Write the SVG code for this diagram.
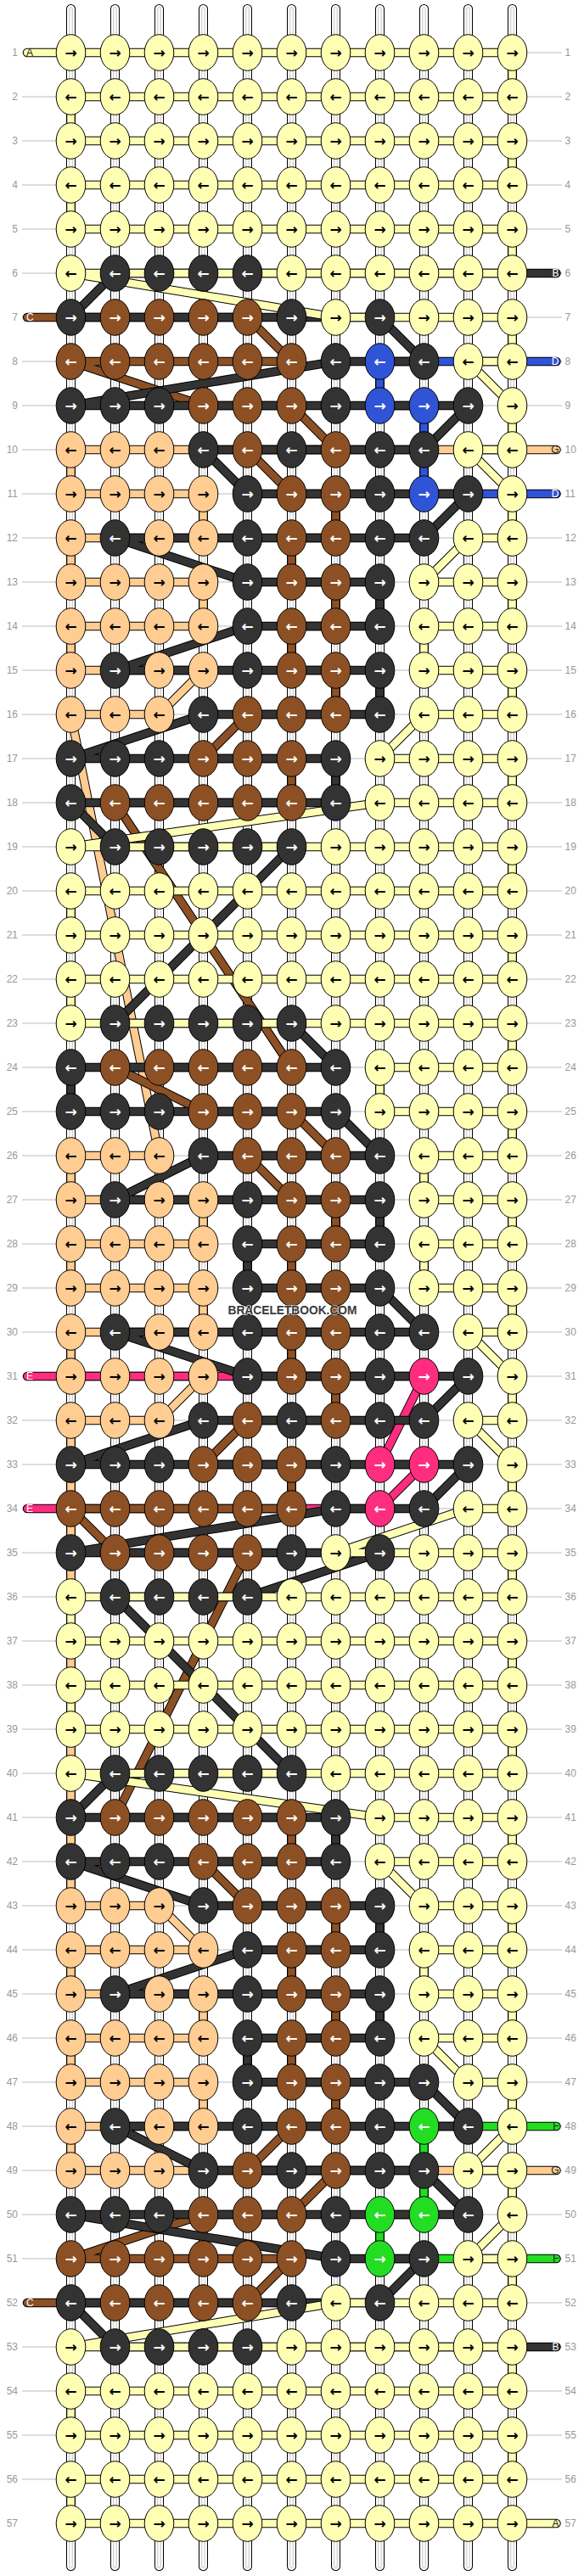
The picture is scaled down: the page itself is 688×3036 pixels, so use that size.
<svg xmlns="http://www.w3.org/2000/svg" xmlns:xlink="http://www.w3.org/1999/xlink" width="688" height="3036" viewBox="0 0 688 3036">
<style>
.a{font-family:"DejaVu Sans",sans-serif;font-weight:bold;font-size:17px;text-anchor:middle;fill:#000}
.w{fill:#fff}
.n,.m{font-family:"Liberation Sans",Arial,sans-serif;font-size:12px;fill:#999}
.n{text-anchor:end}
.s{font-family:"Liberation Sans",Arial,sans-serif;font-size:12px}
.sr{text-anchor:end}
.kn{stroke:#000;stroke-width:1}
.o{stroke:#000;stroke-width:.202}
.i{stroke-width:.1635}
.wm{font-family:"Liberation Sans",Arial,sans-serif;font-weight:bold;font-size:15px;text-anchor:middle;fill:#3a3a3a;stroke:#fff;stroke-opacity:.6;stroke-width:2;paint-order:stroke}
</style>
<defs>
<ellipse id="kY" class="kn" rx="17.3" ry="21.3" fill="#FFFFB4"/>
<ellipse id="kK" class="kn" rx="17.3" ry="21.3" fill="#333333"/>
<ellipse id="kN" class="kn" rx="17.3" ry="21.3" fill="#8C5024"/>
<ellipse id="kP" class="kn" rx="17.3" ry="21.3" fill="#FFCC91"/>
<ellipse id="kD" class="kn" rx="17.3" ry="21.3" fill="#3054D6"/>
<ellipse id="kE" class="kn" rx="17.3" ry="21.3" fill="#FF2D7F"/>
<ellipse id="kF" class="kn" rx="17.3" ry="21.3" fill="#22DD22"/>
<path id="tb" fill="none" d="M83.5 10.5V3024.5M135.5 10.5V3024.5M187.5 10.5V3024.5M239.5 10.5V3024.5M291.5 10.5V3024.5M343.5 10.5V3024.5M395.5 10.5V3024.5M447.5 10.5V3024.5M499.5 10.5V3024.5M551.5 10.5V3024.5M603.5 10.5V3024.5"/>
<path id="sA" fill="none" d="M.01 1L11 1L11 2L1 2L1 3L11 3L11 4L1 4L1 5L11 5L11 6L1 6L7 7L11 7L11 8L10 8L11 9L11 10L10 10L11 11L11 12L10 12L9 13L11 13L11 14L9 14L9 15L11 15L11 16L9 16L8 17L11 17L11 18L8 18L1 19L11 19L11 20L1 20L1 21L11 21L11 22L1 22L1 23L11 23L11 24L8 24L8 25L11 25L11 26L9 26L9 27L11 27L11 28L9 28L9 29L11 29L11 30L10 30L11 31L11 32L10 32L11 33L11 34L10 34L7 35L11 35L11 36L1 36L1 37L11 37L11 38L1 38L1 39L11 39L11 40L1 40L8 41L11 41L11 42L8 42L9 43L11 43L11 44L9 44L9 45L11 45L11 46L9 46L10 47L11 47L11 48L10 49L11 49L11 50L10 51L11 51L11 52L7 52L1 53L11 53L11 54L1 54L1 55L11 55L11 56L1 56L1 57L12 57"/>
<path id="sB" fill="none" d="M12 6L2 6L1 7L8 7L9 8L7 8L1 9L10 9L9 10L4 10L5 11L10 11L9 12L2 12L5 13L8 13L8 14L5 14L2 15L8 15L8 16L4 16L1 17L7 17L7 18L1 18L2 19L6 19L2 23L6 23L7 24L1 24L1 25L7 25L8 26L4 26L2 27L8 27L8 28L5 28L5 29L8 29L9 30L2 30L5 31L10 31L9 32L4 32L1 33L10 33L9 34L7 34L1 35L8 35L5 36L2 36L6 40L2 40L1 41L7 41L7 42L1 42L4 43L8 43L8 44L5 44L2 45L8 45L8 46L5 46L5 47L9 47L10 48L2 48L4 49L9 49L10 50L1 50L7 51L9 51L8 52L1 52L2 53L12 53"/>
<path id="sC" fill="none" d="M.01 7L5 7L6 8L1 8L4 9L6 9L7 10L5 10L6 11L7 11L7 12L6 12L6 13L7 13L7 14L6 14L6 15L7 15L7 16L5 16L4 17L6 17L6 18L2 18L6 24L2 24L4 25L6 25L7 26L5 26L6 27L7 27L7 28L6 28L6 29L7 29L7 30L6 30L6 31L7 31L7 32L5 32L4 33L6 33L6 34L1 34L2 35L5 35L2 41L6 41L6 42L4 42L5 43L7 43L7 44L6 44L6 45L7 45L7 46L6 46L6 47L7 47L7 48L6 48L5 49L7 49L6 50L4 50L1 51L6 51L5 52L2 52L.01 52"/>
<path id="sD" fill="none" d="M12 8L8 8L8 9L9 9L9 11L12 11"/>
<path id="sG" fill="none" d="M12 10L1 10L1 11L4 11L4 12L1 12L1 13L4 13L4 14L1 14L1 15L4 15L3 16L1 16L3 26L1 26L1 27L4 27L4 28L1 28L1 29L4 29L4 30L1 30L1 31L4 31L3 32L1 32L1 43L3 43L4 44L1 44L1 45L4 45L4 46L1 46L1 47L4 47L4 48L1 48L1 49L12 49"/>
<path id="sE" fill="none" d="M.01 31L9 31L8 33L9 33L8 34L.01 34"/>
<path id="sF" fill="none" d="M12 48L9 48L9 50L8 50L8 51L12 51"/>
<g id="TY"><use href="#kY" x="83.5"/><use href="#kY" x="135.5"/><use href="#kY" x="187.5"/><use href="#kY" x="239.5"/><use href="#kY" x="291.5"/><use href="#kY" x="343.5"/><use href="#kY" x="395.5"/><use href="#kY" x="447.5"/><use href="#kY" x="499.5"/><use href="#kY" x="551.5"/><use href="#kY" x="603.5"/></g>
<g id="T6"><use href="#kY" x="83.5"/><use href="#kK" x="135.5"/><use href="#kK" x="187.5"/><use href="#kK" x="239.5"/><use href="#kK" x="291.5"/><use href="#kY" x="343.5"/><use href="#kY" x="395.5"/><use href="#kY" x="447.5"/><use href="#kY" x="499.5"/><use href="#kY" x="551.5"/><use href="#kY" x="603.5"/></g>
<g id="T7"><use href="#kK" x="83.5"/><use href="#kN" x="135.5"/><use href="#kN" x="187.5"/><use href="#kN" x="239.5"/><use href="#kN" x="291.5"/><use href="#kK" x="343.5"/><use href="#kY" x="395.5"/><use href="#kK" x="447.5"/><use href="#kY" x="499.5"/><use href="#kY" x="551.5"/><use href="#kY" x="603.5"/></g>
<g id="T8"><use href="#kN" x="83.5"/><use href="#kN" x="135.5"/><use href="#kN" x="187.5"/><use href="#kN" x="239.5"/><use href="#kN" x="291.5"/><use href="#kN" x="343.5"/><use href="#kK" x="395.5"/><use href="#kD" x="447.5"/><use href="#kK" x="499.5"/><use href="#kY" x="551.5"/><use href="#kY" x="603.5"/></g>
<g id="T9"><use href="#kK" x="83.5"/><use href="#kK" x="135.5"/><use href="#kK" x="187.5"/><use href="#kN" x="239.5"/><use href="#kN" x="291.5"/><use href="#kN" x="343.5"/><use href="#kK" x="395.5"/><use href="#kD" x="447.5"/><use href="#kD" x="499.5"/><use href="#kK" x="551.5"/><use href="#kY" x="603.5"/></g>
<g id="T10"><use href="#kP" x="83.5"/><use href="#kP" x="135.5"/><use href="#kP" x="187.5"/><use href="#kK" x="239.5"/><use href="#kN" x="291.5"/><use href="#kK" x="343.5"/><use href="#kN" x="395.5"/><use href="#kK" x="447.5"/><use href="#kK" x="499.5"/><use href="#kY" x="551.5"/><use href="#kY" x="603.5"/></g>
<g id="T11"><use href="#kP" x="83.5"/><use href="#kP" x="135.5"/><use href="#kP" x="187.5"/><use href="#kP" x="239.5"/><use href="#kK" x="291.5"/><use href="#kN" x="343.5"/><use href="#kN" x="395.5"/><use href="#kK" x="447.5"/><use href="#kD" x="499.5"/><use href="#kK" x="551.5"/><use href="#kY" x="603.5"/></g>
<g id="T12"><use href="#kP" x="83.5"/><use href="#kK" x="135.5"/><use href="#kP" x="187.5"/><use href="#kP" x="239.5"/><use href="#kK" x="291.5"/><use href="#kN" x="343.5"/><use href="#kN" x="395.5"/><use href="#kK" x="447.5"/><use href="#kK" x="499.5"/><use href="#kY" x="551.5"/><use href="#kY" x="603.5"/></g>
<g id="T13"><use href="#kP" x="83.5"/><use href="#kP" x="135.5"/><use href="#kP" x="187.5"/><use href="#kP" x="239.5"/><use href="#kK" x="291.5"/><use href="#kN" x="343.5"/><use href="#kN" x="395.5"/><use href="#kK" x="447.5"/><use href="#kY" x="499.5"/><use href="#kY" x="551.5"/><use href="#kY" x="603.5"/></g>
<g id="T15"><use href="#kP" x="83.5"/><use href="#kK" x="135.5"/><use href="#kP" x="187.5"/><use href="#kP" x="239.5"/><use href="#kK" x="291.5"/><use href="#kN" x="343.5"/><use href="#kN" x="395.5"/><use href="#kK" x="447.5"/><use href="#kY" x="499.5"/><use href="#kY" x="551.5"/><use href="#kY" x="603.5"/></g>
<g id="T16"><use href="#kP" x="83.5"/><use href="#kP" x="135.5"/><use href="#kP" x="187.5"/><use href="#kK" x="239.5"/><use href="#kN" x="291.5"/><use href="#kN" x="343.5"/><use href="#kN" x="395.5"/><use href="#kK" x="447.5"/><use href="#kY" x="499.5"/><use href="#kY" x="551.5"/><use href="#kY" x="603.5"/></g>
<g id="T17"><use href="#kK" x="83.5"/><use href="#kK" x="135.5"/><use href="#kK" x="187.5"/><use href="#kN" x="239.5"/><use href="#kN" x="291.5"/><use href="#kN" x="343.5"/><use href="#kK" x="395.5"/><use href="#kY" x="447.5"/><use href="#kY" x="499.5"/><use href="#kY" x="551.5"/><use href="#kY" x="603.5"/></g>
<g id="T18"><use href="#kK" x="83.5"/><use href="#kN" x="135.5"/><use href="#kN" x="187.5"/><use href="#kN" x="239.5"/><use href="#kN" x="291.5"/><use href="#kN" x="343.5"/><use href="#kK" x="395.5"/><use href="#kY" x="447.5"/><use href="#kY" x="499.5"/><use href="#kY" x="551.5"/><use href="#kY" x="603.5"/></g>
<g id="T19"><use href="#kY" x="83.5"/><use href="#kK" x="135.5"/><use href="#kK" x="187.5"/><use href="#kK" x="239.5"/><use href="#kK" x="291.5"/><use href="#kK" x="343.5"/><use href="#kY" x="395.5"/><use href="#kY" x="447.5"/><use href="#kY" x="499.5"/><use href="#kY" x="551.5"/><use href="#kY" x="603.5"/></g>
<g id="T31"><use href="#kP" x="83.5"/><use href="#kP" x="135.5"/><use href="#kP" x="187.5"/><use href="#kP" x="239.5"/><use href="#kK" x="291.5"/><use href="#kN" x="343.5"/><use href="#kN" x="395.5"/><use href="#kK" x="447.5"/><use href="#kE" x="499.5"/><use href="#kK" x="551.5"/><use href="#kY" x="603.5"/></g>
<g id="T33"><use href="#kK" x="83.5"/><use href="#kK" x="135.5"/><use href="#kK" x="187.5"/><use href="#kN" x="239.5"/><use href="#kN" x="291.5"/><use href="#kN" x="343.5"/><use href="#kK" x="395.5"/><use href="#kE" x="447.5"/><use href="#kE" x="499.5"/><use href="#kK" x="551.5"/><use href="#kY" x="603.5"/></g>
<g id="T34"><use href="#kN" x="83.5"/><use href="#kN" x="135.5"/><use href="#kN" x="187.5"/><use href="#kN" x="239.5"/><use href="#kN" x="291.5"/><use href="#kN" x="343.5"/><use href="#kK" x="395.5"/><use href="#kE" x="447.5"/><use href="#kK" x="499.5"/><use href="#kY" x="551.5"/><use href="#kY" x="603.5"/></g>
<g id="T47"><use href="#kP" x="83.5"/><use href="#kP" x="135.5"/><use href="#kP" x="187.5"/><use href="#kP" x="239.5"/><use href="#kK" x="291.5"/><use href="#kN" x="343.5"/><use href="#kN" x="395.5"/><use href="#kK" x="447.5"/><use href="#kK" x="499.5"/><use href="#kY" x="551.5"/><use href="#kY" x="603.5"/></g>
<g id="T48"><use href="#kP" x="83.5"/><use href="#kK" x="135.5"/><use href="#kP" x="187.5"/><use href="#kP" x="239.5"/><use href="#kK" x="291.5"/><use href="#kN" x="343.5"/><use href="#kN" x="395.5"/><use href="#kK" x="447.5"/><use href="#kF" x="499.5"/><use href="#kK" x="551.5"/><use href="#kY" x="603.5"/></g>
<g id="T50"><use href="#kK" x="83.5"/><use href="#kK" x="135.5"/><use href="#kK" x="187.5"/><use href="#kN" x="239.5"/><use href="#kN" x="291.5"/><use href="#kN" x="343.5"/><use href="#kK" x="395.5"/><use href="#kF" x="447.5"/><use href="#kF" x="499.5"/><use href="#kK" x="551.5"/><use href="#kY" x="603.5"/></g>
<g id="T51"><use href="#kN" x="83.5"/><use href="#kN" x="135.5"/><use href="#kN" x="187.5"/><use href="#kN" x="239.5"/><use href="#kN" x="291.5"/><use href="#kN" x="343.5"/><use href="#kK" x="395.5"/><use href="#kF" x="447.5"/><use href="#kK" x="499.5"/><use href="#kY" x="551.5"/><use href="#kY" x="603.5"/></g>
</defs>
<rect width="688" height="3036" fill="#fff"/>
<g id="row-lines">
<path fill="none" stroke="#bbb" stroke-width="1" d="M26 62h636m-636 52h636m-636 52h636m-636 52h636m-636 52h636m-636 52h636m-636 52h636m-636 52h636m-636 52h636m-636 52h636m-636 52h636m-636 52h636m-636 52h636m-636 52h636m-636 52h636m-636 52h636m-636 52h636m-636 52h636m-636 52h636m-636 52h636m-636 52h636m-636 52h636m-636 52h636m-636 52h636m-636 52h636m-636 52h636m-636 52h636m-636 52h636m-636 52h636m-636 52h636m-636 52h636m-636 52h636m-636 52h636m-636 52h636m-636 52h636m-636 52h636m-636 52h636m-636 52h636m-636 52h636m-636 52h636m-636 52h636m-636 52h636m-636 52h636m-636 52h636m-636 52h636m-636 52h636m-636 52h636m-636 52h636m-636 52h636m-636 52h636m-636 52h636m-636 52h636m-636 52h636m-636 52h636m-636 52h636m-636 52h636"/>
</g>
<g id="warps" stroke-linecap="round">
<use href="#tb" stroke="#000" stroke-width="11"/>
<use href="#tb" stroke="#fff" stroke-width="9"/>
<use href="#tb" stroke="#c4c4c4" stroke-width="4.4"/>
<use href="#tb" stroke="#fff" stroke-width="2.4"/>
</g>
<g id="connectors" transform="translate(31.5 10) scale(52)" stroke-linejoin="round" stroke-linecap="round">
<use href="#sG" class="o"/><use href="#sG" class="i" stroke="#FFCC91"/>
<use href="#sE" class="o"/><use href="#sE" class="i" stroke="#FF2D7F"/>
<use href="#sF" class="o"/><use href="#sF" class="i" stroke="#22DD22"/>
<use href="#sD" class="o"/><use href="#sD" class="i" stroke="#3054D6"/>
<use href="#sC" class="o"/><use href="#sC" class="i" stroke="#8C5024"/>
<use href="#sB" class="o"/><use href="#sB" class="i" stroke="#333333"/>
<use href="#sA" class="o"/><use href="#sA" class="i" stroke="#FFFFB4"/>
</g>
<g id="knots">
<g id="row1" transform="translate(0 62)"><use href="#TY"/><text class="a" y="5.5" x="83.5 135.5 187.5 239.5 291.5 343.5 395.5 447.5 499.5 551.5 603.5">→→→→→→→→→→→</text><text class="n" x="21" y="4">1</text><text class="m" x="665.5" y="4">1</text></g>
<g id="row2" transform="translate(0 114)"><use href="#TY"/><text class="a" y="5.5" x="83.5 135.5 187.5 239.5 291.5 343.5 395.5 447.5 499.5 551.5 603.5">←←←←←←←←←←←</text><text class="n" x="21" y="4">2</text><text class="m" x="665.5" y="4">2</text></g>
<g id="row3" transform="translate(0 166)"><use href="#TY"/><text class="a" y="5.5" x="83.5 135.5 187.5 239.5 291.5 343.5 395.5 447.5 499.5 551.5 603.5">→→→→→→→→→→→</text><text class="n" x="21" y="4">3</text><text class="m" x="665.5" y="4">3</text></g>
<g id="row4" transform="translate(0 218)"><use href="#TY"/><text class="a" y="5.5" x="83.5 135.5 187.5 239.5 291.5 343.5 395.5 447.5 499.5 551.5 603.5">←←←←←←←←←←←</text><text class="n" x="21" y="4">4</text><text class="m" x="665.5" y="4">4</text></g>
<g id="row5" transform="translate(0 270)"><use href="#TY"/><text class="a" y="5.5" x="83.5 135.5 187.5 239.5 291.5 343.5 395.5 447.5 499.5 551.5 603.5">→→→→→→→→→→→</text><text class="n" x="21" y="4">5</text><text class="m" x="665.5" y="4">5</text></g>
<g id="row6" transform="translate(0 322)"><use href="#T6"/><text class="a" y="5.5" x="83.5 135.5 187.5 239.5 291.5 343.5 395.5 447.5 499.5 551.5 603.5">←<tspan class="w">←←←←</tspan>←←←←←←</text><text class="n" x="21" y="4">6</text><text class="m" x="665.5" y="4">6</text></g>
<g id="row7" transform="translate(0 374)"><use href="#T7"/><text class="a" y="5.5" x="83.5 135.5 187.5 239.5 291.5 343.5 395.5 447.5 499.5 551.5 603.5"><tspan class="w">→→→→→→</tspan>→<tspan class="w">→</tspan>→→→</text><text class="n" x="21" y="4">7</text><text class="m" x="665.5" y="4">7</text></g>
<g id="row8" transform="translate(0 426)"><use href="#T8"/><text class="a" y="5.5" x="83.5 135.5 187.5 239.5 291.5 343.5 395.5 447.5 499.5 551.5 603.5"><tspan class="w">←←←←←←←←←</tspan>←←</text><text class="n" x="21" y="4">8</text><text class="m" x="665.5" y="4">8</text></g>
<g id="row9" transform="translate(0 478)"><use href="#T9"/><text class="a" y="5.5" x="83.5 135.5 187.5 239.5 291.5 343.5 395.5 447.5 499.5 551.5 603.5"><tspan class="w">→→→→→→→→→→</tspan>→</text><text class="n" x="21" y="4">9</text><text class="m" x="665.5" y="4">9</text></g>
<g id="row10" transform="translate(0 530)"><use href="#T10"/><text class="a" y="5.5" x="83.5 135.5 187.5 239.5 291.5 343.5 395.5 447.5 499.5 551.5 603.5">←←←<tspan class="w">←←←←←←</tspan>←←</text><text class="n" x="21" y="4">10</text><text class="m" x="665.5" y="4">10</text></g>
<g id="row11" transform="translate(0 582)"><use href="#T11"/><text class="a" y="5.5" x="83.5 135.5 187.5 239.5 291.5 343.5 395.5 447.5 499.5 551.5 603.5">→→→→<tspan class="w">→→→→→→</tspan>→</text><text class="n" x="21" y="4">11</text><text class="m" x="665.5" y="4">11</text></g>
<g id="row12" transform="translate(0 634)"><use href="#T12"/><text class="a" y="5.5" x="83.5 135.5 187.5 239.5 291.5 343.5 395.5 447.5 499.5 551.5 603.5">←<tspan class="w">←</tspan>←←<tspan class="w">←←←←←</tspan>←←</text><text class="n" x="21" y="4">12</text><text class="m" x="665.5" y="4">12</text></g>
<g id="row13" transform="translate(0 686)"><use href="#T13"/><text class="a" y="5.5" x="83.5 135.5 187.5 239.5 291.5 343.5 395.5 447.5 499.5 551.5 603.5">→→→→<tspan class="w">→→→→</tspan>→→→</text><text class="n" x="21" y="4">13</text><text class="m" x="665.5" y="4">13</text></g>
<g id="row14" transform="translate(0 738)"><use href="#T13"/><text class="a" y="5.5" x="83.5 135.5 187.5 239.5 291.5 343.5 395.5 447.5 499.5 551.5 603.5">←←←←<tspan class="w">←←←←</tspan>←←←</text><text class="n" x="21" y="4">14</text><text class="m" x="665.5" y="4">14</text></g>
<g id="row15" transform="translate(0 790)"><use href="#T15"/><text class="a" y="5.5" x="83.5 135.5 187.5 239.5 291.5 343.5 395.5 447.5 499.5 551.5 603.5">→<tspan class="w">→</tspan>→→<tspan class="w">→→→→</tspan>→→→</text><text class="n" x="21" y="4">15</text><text class="m" x="665.5" y="4">15</text></g>
<g id="row16" transform="translate(0 842)"><use href="#T16"/><text class="a" y="5.5" x="83.5 135.5 187.5 239.5 291.5 343.5 395.5 447.5 499.5 551.5 603.5">←←←<tspan class="w">←←←←←</tspan>←←←</text><text class="n" x="21" y="4">16</text><text class="m" x="665.5" y="4">16</text></g>
<g id="row17" transform="translate(0 894)"><use href="#T17"/><text class="a" y="5.5" x="83.5 135.5 187.5 239.5 291.5 343.5 395.5 447.5 499.5 551.5 603.5"><tspan class="w">→→→→→→→</tspan>→→→→</text><text class="n" x="21" y="4">17</text><text class="m" x="665.5" y="4">17</text></g>
<g id="row18" transform="translate(0 946)"><use href="#T18"/><text class="a" y="5.5" x="83.5 135.5 187.5 239.5 291.5 343.5 395.5 447.5 499.5 551.5 603.5"><tspan class="w">←←←←←←←</tspan>←←←←</text><text class="n" x="21" y="4">18</text><text class="m" x="665.5" y="4">18</text></g>
<g id="row19" transform="translate(0 998)"><use href="#T19"/><text class="a" y="5.5" x="83.5 135.5 187.5 239.5 291.5 343.5 395.5 447.5 499.5 551.5 603.5">→<tspan class="w">→→→→→</tspan>→→→→→</text><text class="n" x="21" y="4">19</text><text class="m" x="665.5" y="4">19</text></g>
<g id="row20" transform="translate(0 1050)"><use href="#TY"/><text class="a" y="5.5" x="83.5 135.5 187.5 239.5 291.5 343.5 395.5 447.5 499.5 551.5 603.5">←←←←←←←←←←←</text><text class="n" x="21" y="4">20</text><text class="m" x="665.5" y="4">20</text></g>
<g id="row21" transform="translate(0 1102)"><use href="#TY"/><text class="a" y="5.5" x="83.5 135.5 187.5 239.5 291.5 343.5 395.5 447.5 499.5 551.5 603.5">→→→→→→→→→→→</text><text class="n" x="21" y="4">21</text><text class="m" x="665.5" y="4">21</text></g>
<g id="row22" transform="translate(0 1154)"><use href="#TY"/><text class="a" y="5.5" x="83.5 135.5 187.5 239.5 291.5 343.5 395.5 447.5 499.5 551.5 603.5">←←←←←←←←←←←</text><text class="n" x="21" y="4">22</text><text class="m" x="665.5" y="4">22</text></g>
<g id="row23" transform="translate(0 1206)"><use href="#T19"/><text class="a" y="5.5" x="83.5 135.5 187.5 239.5 291.5 343.5 395.5 447.5 499.5 551.5 603.5">→<tspan class="w">→→→→→</tspan>→→→→→</text><text class="n" x="21" y="4">23</text><text class="m" x="665.5" y="4">23</text></g>
<g id="row24" transform="translate(0 1258)"><use href="#T18"/><text class="a" y="5.5" x="83.5 135.5 187.5 239.5 291.5 343.5 395.5 447.5 499.5 551.5 603.5"><tspan class="w">←←←←←←←</tspan>←←←←</text><text class="n" x="21" y="4">24</text><text class="m" x="665.5" y="4">24</text></g>
<g id="row25" transform="translate(0 1310)"><use href="#T17"/><text class="a" y="5.5" x="83.5 135.5 187.5 239.5 291.5 343.5 395.5 447.5 499.5 551.5 603.5"><tspan class="w">→→→→→→→</tspan>→→→→</text><text class="n" x="21" y="4">25</text><text class="m" x="665.5" y="4">25</text></g>
<g id="row26" transform="translate(0 1362)"><use href="#T16"/><text class="a" y="5.5" x="83.5 135.5 187.5 239.5 291.5 343.5 395.5 447.5 499.5 551.5 603.5">←←←<tspan class="w">←←←←←</tspan>←←←</text><text class="n" x="21" y="4">26</text><text class="m" x="665.5" y="4">26</text></g>
<g id="row27" transform="translate(0 1414)"><use href="#T15"/><text class="a" y="5.5" x="83.5 135.5 187.5 239.5 291.5 343.5 395.5 447.5 499.5 551.5 603.5">→<tspan class="w">→</tspan>→→<tspan class="w">→→→→</tspan>→→→</text><text class="n" x="21" y="4">27</text><text class="m" x="665.5" y="4">27</text></g>
<g id="row28" transform="translate(0 1466)"><use href="#T13"/><text class="a" y="5.5" x="83.5 135.5 187.5 239.5 291.5 343.5 395.5 447.5 499.5 551.5 603.5">←←←←<tspan class="w">←←←←</tspan>←←←</text><text class="n" x="21" y="4">28</text><text class="m" x="665.5" y="4">28</text></g>
<g id="row29" transform="translate(0 1518)"><use href="#T13"/><text class="a" y="5.5" x="83.5 135.5 187.5 239.5 291.5 343.5 395.5 447.5 499.5 551.5 603.5">→→→→<tspan class="w">→→→→</tspan>→→→</text><text class="n" x="21" y="4">29</text><text class="m" x="665.5" y="4">29</text></g>
<g id="row30" transform="translate(0 1570)"><use href="#T12"/><text class="a" y="5.5" x="83.5 135.5 187.5 239.5 291.5 343.5 395.5 447.5 499.5 551.5 603.5">←<tspan class="w">←</tspan>←←<tspan class="w">←←←←←</tspan>←←</text><text class="n" x="21" y="4">30</text><text class="m" x="665.5" y="4">30</text></g>
<g id="row31" transform="translate(0 1622)"><use href="#T31"/><text class="a" y="5.5" x="83.5 135.5 187.5 239.5 291.5 343.5 395.5 447.5 499.5 551.5 603.5">→→→→<tspan class="w">→→→→→→</tspan>→</text><text class="n" x="21" y="4">31</text><text class="m" x="665.5" y="4">31</text></g>
<g id="row32" transform="translate(0 1674)"><use href="#T10"/><text class="a" y="5.5" x="83.5 135.5 187.5 239.5 291.5 343.5 395.5 447.5 499.5 551.5 603.5">←←←<tspan class="w">←←←←←←</tspan>←←</text><text class="n" x="21" y="4">32</text><text class="m" x="665.5" y="4">32</text></g>
<g id="row33" transform="translate(0 1726)"><use href="#T33"/><text class="a" y="5.5" x="83.5 135.5 187.5 239.5 291.5 343.5 395.5 447.5 499.5 551.5 603.5"><tspan class="w">→→→→→→→→→→</tspan>→</text><text class="n" x="21" y="4">33</text><text class="m" x="665.5" y="4">33</text></g>
<g id="row34" transform="translate(0 1778)"><use href="#T34"/><text class="a" y="5.5" x="83.5 135.5 187.5 239.5 291.5 343.5 395.5 447.5 499.5 551.5 603.5"><tspan class="w">←←←←←←←←←</tspan>←←</text><text class="n" x="21" y="4">34</text><text class="m" x="665.5" y="4">34</text></g>
<g id="row35" transform="translate(0 1830)"><use href="#T7"/><text class="a" y="5.5" x="83.5 135.5 187.5 239.5 291.5 343.5 395.5 447.5 499.5 551.5 603.5"><tspan class="w">→→→→→→</tspan>→<tspan class="w">→</tspan>→→→</text><text class="n" x="21" y="4">35</text><text class="m" x="665.5" y="4">35</text></g>
<g id="row36" transform="translate(0 1882)"><use href="#T6"/><text class="a" y="5.5" x="83.5 135.5 187.5 239.5 291.5 343.5 395.5 447.5 499.5 551.5 603.5">←<tspan class="w">←←←←</tspan>←←←←←←</text><text class="n" x="21" y="4">36</text><text class="m" x="665.5" y="4">36</text></g>
<g id="row37" transform="translate(0 1934)"><use href="#TY"/><text class="a" y="5.5" x="83.5 135.5 187.5 239.5 291.5 343.5 395.5 447.5 499.5 551.5 603.5">→→→→→→→→→→→</text><text class="n" x="21" y="4">37</text><text class="m" x="665.5" y="4">37</text></g>
<g id="row38" transform="translate(0 1986)"><use href="#TY"/><text class="a" y="5.5" x="83.5 135.5 187.5 239.5 291.5 343.5 395.5 447.5 499.5 551.5 603.5">←←←←←←←←←←←</text><text class="n" x="21" y="4">38</text><text class="m" x="665.5" y="4">38</text></g>
<g id="row39" transform="translate(0 2038)"><use href="#TY"/><text class="a" y="5.5" x="83.5 135.5 187.5 239.5 291.5 343.5 395.5 447.5 499.5 551.5 603.5">→→→→→→→→→→→</text><text class="n" x="21" y="4">39</text><text class="m" x="665.5" y="4">39</text></g>
<g id="row40" transform="translate(0 2090)"><use href="#T19"/><text class="a" y="5.5" x="83.5 135.5 187.5 239.5 291.5 343.5 395.5 447.5 499.5 551.5 603.5">←<tspan class="w">←←←←←</tspan>←←←←←</text><text class="n" x="21" y="4">40</text><text class="m" x="665.5" y="4">40</text></g>
<g id="row41" transform="translate(0 2142)"><use href="#T18"/><text class="a" y="5.5" x="83.5 135.5 187.5 239.5 291.5 343.5 395.5 447.5 499.5 551.5 603.5"><tspan class="w">→→→→→→→</tspan>→→→→</text><text class="n" x="21" y="4">41</text><text class="m" x="665.5" y="4">41</text></g>
<g id="row42" transform="translate(0 2194)"><use href="#T17"/><text class="a" y="5.5" x="83.5 135.5 187.5 239.5 291.5 343.5 395.5 447.5 499.5 551.5 603.5"><tspan class="w">←←←←←←←</tspan>←←←←</text><text class="n" x="21" y="4">42</text><text class="m" x="665.5" y="4">42</text></g>
<g id="row43" transform="translate(0 2246)"><use href="#T16"/><text class="a" y="5.5" x="83.5 135.5 187.5 239.5 291.5 343.5 395.5 447.5 499.5 551.5 603.5">→→→<tspan class="w">→→→→→</tspan>→→→</text><text class="n" x="21" y="4">43</text><text class="m" x="665.5" y="4">43</text></g>
<g id="row44" transform="translate(0 2298)"><use href="#T13"/><text class="a" y="5.5" x="83.5 135.5 187.5 239.5 291.5 343.5 395.5 447.5 499.5 551.5 603.5">←←←←<tspan class="w">←←←←</tspan>←←←</text><text class="n" x="21" y="4">44</text><text class="m" x="665.5" y="4">44</text></g>
<g id="row45" transform="translate(0 2350)"><use href="#T15"/><text class="a" y="5.5" x="83.5 135.5 187.5 239.5 291.5 343.5 395.5 447.5 499.5 551.5 603.5">→<tspan class="w">→</tspan>→→<tspan class="w">→→→→</tspan>→→→</text><text class="n" x="21" y="4">45</text><text class="m" x="665.5" y="4">45</text></g>
<g id="row46" transform="translate(0 2402)"><use href="#T13"/><text class="a" y="5.5" x="83.5 135.5 187.5 239.5 291.5 343.5 395.5 447.5 499.5 551.5 603.5">←←←←<tspan class="w">←←←←</tspan>←←←</text><text class="n" x="21" y="4">46</text><text class="m" x="665.5" y="4">46</text></g>
<g id="row47" transform="translate(0 2454)"><use href="#T47"/><text class="a" y="5.5" x="83.5 135.5 187.5 239.5 291.5 343.5 395.5 447.5 499.5 551.5 603.5">→→→→<tspan class="w">→→→→→</tspan>→→</text><text class="n" x="21" y="4">47</text><text class="m" x="665.5" y="4">47</text></g>
<g id="row48" transform="translate(0 2506)"><use href="#T48"/><text class="a" y="5.5" x="83.5 135.5 187.5 239.5 291.5 343.5 395.5 447.5 499.5 551.5 603.5">←<tspan class="w">←</tspan>←←<tspan class="w">←←←←←←</tspan>←</text><text class="n" x="21" y="4">48</text><text class="m" x="665.5" y="4">48</text></g>
<g id="row49" transform="translate(0 2558)"><use href="#T10"/><text class="a" y="5.5" x="83.5 135.5 187.5 239.5 291.5 343.5 395.5 447.5 499.5 551.5 603.5">→→→<tspan class="w">→→→→→→</tspan>→→</text><text class="n" x="21" y="4">49</text><text class="m" x="665.5" y="4">49</text></g>
<g id="row50" transform="translate(0 2610)"><use href="#T50"/><text class="a" y="5.5" x="83.5 135.5 187.5 239.5 291.5 343.5 395.5 447.5 499.5 551.5 603.5"><tspan class="w">←←←←←←←←←←</tspan>←</text><text class="n" x="21" y="4">50</text><text class="m" x="665.5" y="4">50</text></g>
<g id="row51" transform="translate(0 2662)"><use href="#T51"/><text class="a" y="5.5" x="83.5 135.5 187.5 239.5 291.5 343.5 395.5 447.5 499.5 551.5 603.5"><tspan class="w">→→→→→→→→→</tspan>→→</text><text class="n" x="21" y="4">51</text><text class="m" x="665.5" y="4">51</text></g>
<g id="row52" transform="translate(0 2714)"><use href="#T7"/><text class="a" y="5.5" x="83.5 135.5 187.5 239.5 291.5 343.5 395.5 447.5 499.5 551.5 603.5"><tspan class="w">←←←←←←</tspan>←<tspan class="w">←</tspan>←←←</text><text class="n" x="21" y="4">52</text><text class="m" x="665.5" y="4">52</text></g>
<g id="row53" transform="translate(0 2766)"><use href="#T6"/><text class="a" y="5.5" x="83.5 135.5 187.5 239.5 291.5 343.5 395.5 447.5 499.5 551.5 603.5">→<tspan class="w">→→→→</tspan>→→→→→→</text><text class="n" x="21" y="4">53</text><text class="m" x="665.5" y="4">53</text></g>
<g id="row54" transform="translate(0 2818)"><use href="#TY"/><text class="a" y="5.5" x="83.5 135.5 187.5 239.5 291.5 343.5 395.5 447.5 499.5 551.5 603.5">←←←←←←←←←←←</text><text class="n" x="21" y="4">54</text><text class="m" x="665.5" y="4">54</text></g>
<g id="row55" transform="translate(0 2870)"><use href="#TY"/><text class="a" y="5.5" x="83.5 135.5 187.5 239.5 291.5 343.5 395.5 447.5 499.5 551.5 603.5">→→→→→→→→→→→</text><text class="n" x="21" y="4">55</text><text class="m" x="665.5" y="4">55</text></g>
<g id="row56" transform="translate(0 2922)"><use href="#TY"/><text class="a" y="5.5" x="83.5 135.5 187.5 239.5 291.5 343.5 395.5 447.5 499.5 551.5 603.5">←←←←←←←←←←←</text><text class="n" x="21" y="4">56</text><text class="m" x="665.5" y="4">56</text></g>
<g id="row57" transform="translate(0 2974)"><use href="#TY"/><text class="a" y="5.5" x="83.5 135.5 187.5 239.5 291.5 343.5 395.5 447.5 499.5 551.5 603.5">→→→→→→→→→→→</text><text class="n" x="21" y="4">57</text><text class="m" x="665.5" y="4">57</text></g>
</g>
<g id="string-labels" class="s">
<text x="31" y="66.2" fill="#222">A</text>
<text x="31" y="378.2" fill="#fff">C</text>
<text x="31" y="1626.2" fill="#fff">E</text>
<text x="31" y="1782.2" fill="#fff">E</text>
<text x="31" y="2718.2" fill="#fff">C</text>
<text class="sr" x="658.5" y="326.2" fill="#fff">B</text>
<text class="sr" x="658.5" y="430.2" fill="#fff">D</text>
<text class="sr" x="658.5" y="534.2" fill="#222">G</text>
<text class="sr" x="658.5" y="586.2" fill="#fff">D</text>
<text class="sr" x="658.5" y="2510.2" fill="#222">F</text>
<text class="sr" x="658.5" y="2562.2" fill="#222">G</text>
<text class="sr" x="658.5" y="2666.2" fill="#222">F</text>
<text class="sr" x="658.5" y="2770.2" fill="#fff">B</text>
<text class="sr" x="658.5" y="2978.2" fill="#222">A</text>
</g>
<text class="wm" x="344.5" y="1549" textLength="152" lengthAdjust="spacingAndGlyphs">BRACELETBOOK.COM</text>
</svg>
